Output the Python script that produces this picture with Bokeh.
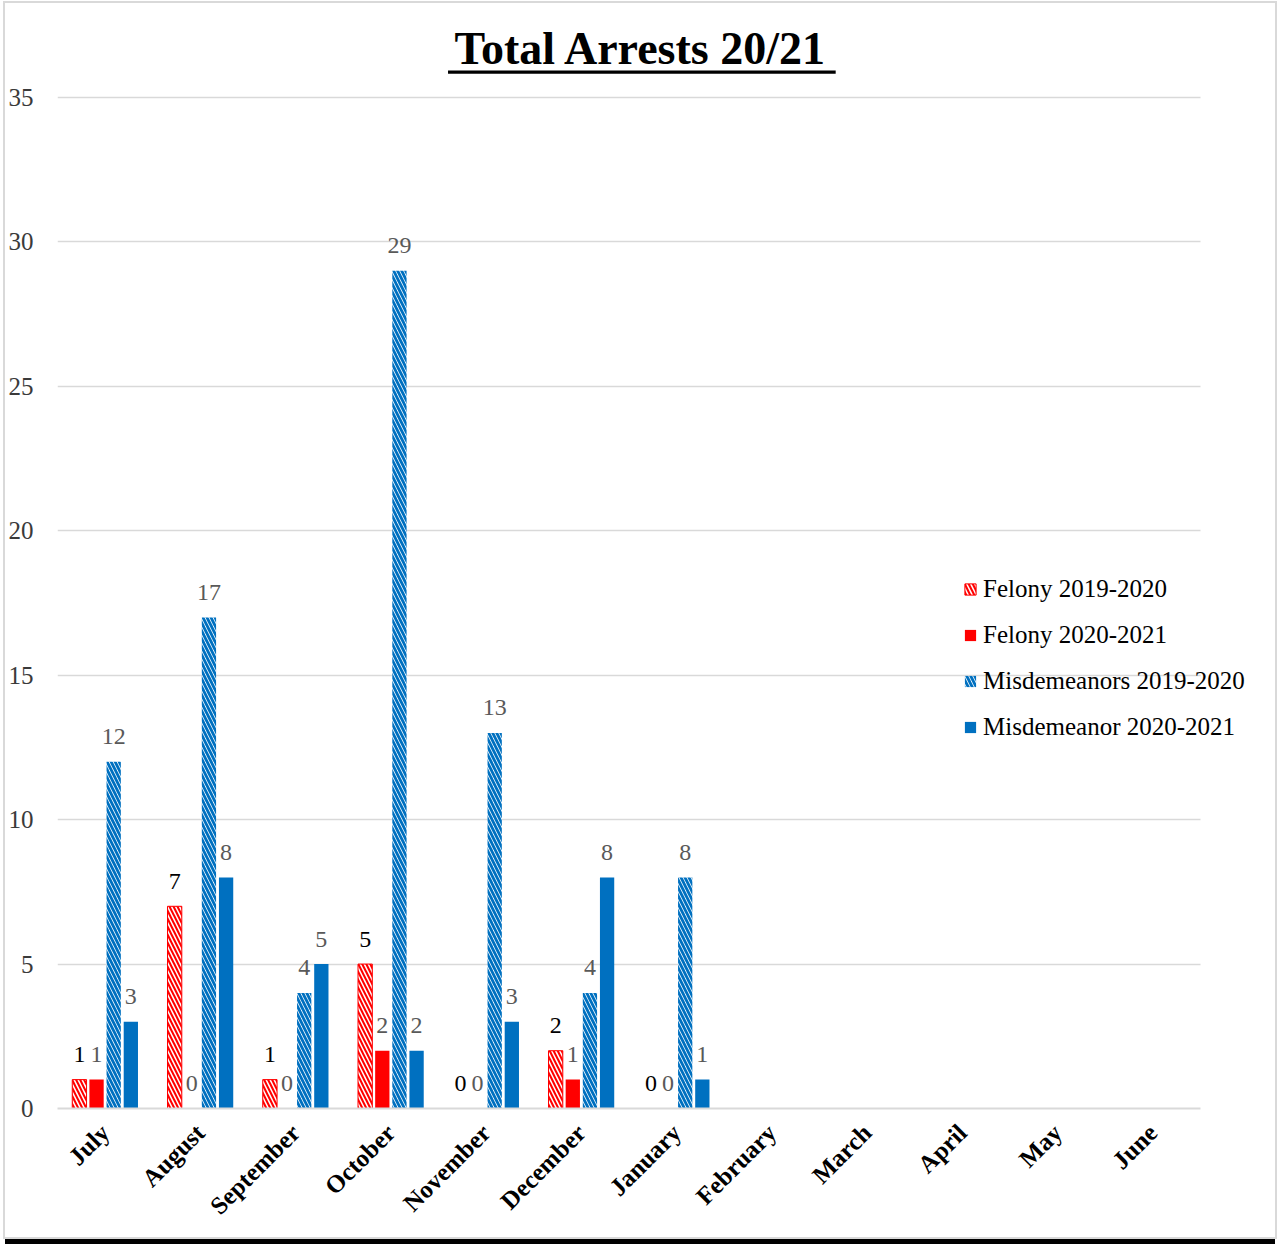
from bokeh.plotting import figure
from bokeh.models import ColumnDataSource, Range1d, FixedTicker, Label
from bokeh.transform import dodge
from bokeh.core.properties import value
from bokeh.embed import file_html
from bokeh.resources import INLINE
import math

# ---- data -------------------------------------------------------------
months = ["July", "August", "September", "October", "November", "December",
          "January", "February", "March", "April", "May", "June"]
reported = months[:7]

felony_1920 = [1, 7, 1, 5, 0, 2, 0]
felony_2021 = [1, 0, 0, 2, 0, 1, 0]
misd_1920 = [12, 17, 4, 29, 13, 4, 8]
misd_2021 = [3, 8, 5, 2, 3, 8, 1]

y_ticks = [0, 5, 10, 15, 20, 25, 30, 35]

RED = "#FF0000"
BLUE = "#0070C0"
SERIF = "Liberation Serif"

# one slot per month; the slot centre sits at index + 0.5
month_pos = [i + 0.5 for i in range(len(months))]

p = figure(
    x_range=Range1d(0, 12.609),
    y_range=Range1d(0, 38.01),
    width=1270, height=1234,
    output_backend="svg", toolbar_location=None,
    min_border_left=52, min_border_right=17,
    min_border_top=7, min_border_bottom=129,
    outline_line_color=None,
    background_fill_color="white", border_fill_color="white",
)
# light frame around the whole chart and a dark rule underneath
p.styles = {"margin": "3px 0 0 5px",
            "outline": "2px solid #d9d9d9",
            "box-shadow": "0 7px 0 0 black"}

# grid / axes
p.xgrid.grid_line_color = None
p.ygrid.grid_line_color = "#d9d9d9"
p.ygrid.grid_line_width = 1.5
p.ygrid.cross_bounds = (0, 12)
p.yaxis.ticker = FixedTicker(ticks=y_ticks)
p.yaxis.axis_line_color = None
p.yaxis.major_tick_line_color = None
p.yaxis.minor_tick_line_color = None
p.yaxis.major_tick_out = 0
p.yaxis.major_label_standoff = 24
p.yaxis.major_label_text_font = SERIF
p.yaxis.major_label_text_font_size = "25px"
p.yaxis.major_label_text_color = "#3a3a3a"

p.xaxis.ticker = FixedTicker(ticks=month_pos)
p.xaxis.major_label_overrides = {pos: m for pos, m in zip(month_pos, months)}
p.xaxis.bounds = (0, 12)
p.xaxis.axis_line_color = "#d9d9d9"
p.xaxis.axis_line_width = 2
p.xaxis.major_tick_line_color = None
p.xaxis.minor_tick_line_color = None
p.xaxis.major_tick_out = 0
p.xaxis.major_label_orientation = math.pi / 4
p.xaxis.major_label_standoff = 20
p.xaxis.major_label_text_font = SERIF
p.xaxis.major_label_text_font_style = "bold"
p.xaxis.major_label_text_font_size = "25px"
p.xaxis.major_label_text_color = "black"

series = [
    ("Felony 2019-2020", felony_1920, -0.27,
     dict(fill_color=RED, line_color=RED, hatch_pattern="left_diagonal_line",
          hatch_color="white", hatch_scale=8, hatch_weight=1.5), "black"),
    ("Felony 2020-2021", felony_2021, -0.09,
     dict(fill_color=RED, line_color=None), "#595959"),
    ("Misdemeanors 2019-2020", misd_1920, 0.09,
     dict(fill_color="white", line_color=None, hatch_pattern="left_diagonal_line",
          hatch_color=BLUE, hatch_scale=8, hatch_weight=2.8), "#595959"),
    ("Misdemeanor 2020-2021", misd_2021, 0.27,
     dict(fill_color=BLUE, line_color=None), "#595959"),
]

for name, vals, off, style, lab_color in series:
    src = ColumnDataSource(dict(pos=month_pos[:len(vals)], value=vals,
                                label=[str(v) for v in vals],
                                edge=[1.0 if v > 0 else 0.0 for v in vals]))
    xpos = dodge("pos", off)
    p.vbar(x=xpos, top="value", width=0.15, source=src, line_alpha="edge",
           line_width=1, legend_label=name, **style)
    p.text(x=xpos, y="value", text="label", source=src,
           text_font=value(SERIF), text_font_size="24px",
           text_color=lab_color, text_align="center",
           text_baseline="alphabetic", y_offset=-25)

# title with underline
p.add_layout(Label(x=6.126, y=36.70, text="Total Arrests 20/21",
                   text_font=SERIF, text_font_style="bold",
                   text_font_size="46px", text_align="center",
                   text_baseline="alphabetic", text_color="black"))
p.quad(left=[4.10], right=[8.17], bottom=[35.82], top=[35.93],
       fill_color="black", line_color=None)

# legend
lg = p.legend[0]
lg.location = (906, 367)
lg.border_line_color = None
lg.background_fill_alpha = 0
lg.padding = 0
lg.margin = 0
lg.spacing = 18
lg.glyph_width = 14
lg.glyph_height = 14
lg.label_height = 24
lg.label_standoff = 6
lg.label_text_font = SERIF
lg.label_text_font_size = "25px"
lg.label_text_color = "black"

open("out.html", "w").write(file_html(p, INLINE))
